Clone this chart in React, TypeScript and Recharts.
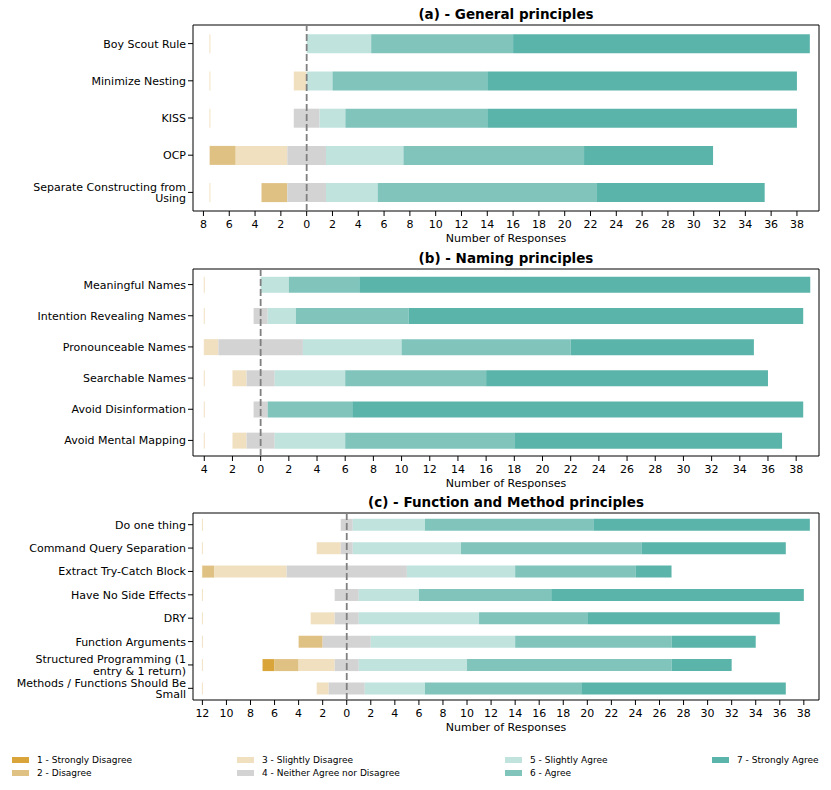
import React from 'react';
import { BarChart, Bar, XAxis, YAxis, ReferenceLine, ReferenceArea } from 'recharts';

// ---- Likert levels ----
const likertLevels = [
  '1 - Strongly Disagree',
  '2 - Disagree',
  '3 - Slightly Disagree',
  '4 - Neither Agree nor Disagree',
  '5 - Slightly Agree',
  '6 - Agree',
  '7 - Strongly Agree',
];
const likertKeys = ['sd', 'd', 'sld', 'n', 'sla', 'a', 'sa'];
const likertColors = ['#d9a53a', '#e0c184', '#f0e0c0', '#d3d3d3', '#c0e3de', '#80c4bc', '#5ab4aa'];

// ---- (a) General principles ----
const generalCategories = [
  'Boy Scout Rule',
  'Minimize Nesting',
  'KISS',
  'OCP',
  'Separate Constructing from\nUsing',
];
const generalSD = [0, 0, 0, 0, 0];
const generalD = [0, 0, 0, 2, 2];
const generalSlD = [0, 1, 0, 4, 0];
const generalN = [0, 0, 2, 3, 3];
const generalSlA = [5, 2, 2, 6, 4];
const generalA = [11, 12, 11, 14, 17];
const generalSA = [23, 24, 24, 10, 13];
const generalTicks = [-8, -6, -4, -2, 0, 2, 4, 6, 8, 10, 12, 14, 16, 18, 20, 22, 24, 26, 28, 30, 32, 34, 36, 38];

// ---- (b) Naming principles ----
const namingCategories = [
  'Meaningful Names',
  'Intention Revealing Names',
  'Pronounceable Names',
  'Searchable Names',
  'Avoid Disinformation',
  'Avoid Mental Mapping',
];
const namingSD = [0, 0, 0, 0, 0, 0];
const namingD = [0, 0, 0, 0, 0, 0];
const namingSlD = [0, 0, 1, 1, 0, 1];
const namingN = [0, 1, 6, 2, 1, 2];
const namingSlA = [2, 2, 7, 5, 0, 5];
const namingA = [5, 8, 12, 10, 6, 12];
const namingSA = [32, 28, 13, 20, 32, 19];
const namingTicks = [-4, -2, 0, 2, 4, 6, 8, 10, 12, 14, 16, 18, 20, 22, 24, 26, 28, 30, 32, 34, 36, 38];

// ---- (c) Function and Method principles ----
const functionCategories = [
  'Do one thing',
  'Command Query Separation',
  'Extract Try-Catch Block',
  'Have No Side Effects',
  'DRY',
  'Function Arguments',
  'Structured Programming (1\nentry & 1 return)',
  'Methods / Functions Should Be\nSmall',
];
const functionSD = [0, 0, 0, 0, 0, 0, 1, 0];
const functionD = [0, 0, 1, 0, 0, 2, 2, 0];
const functionSlD = [0, 2, 6, 0, 2, 0, 3, 1];
const functionN = [1, 1, 10, 2, 2, 4, 2, 3];
const functionSlA = [6, 9, 9, 5, 10, 12, 9, 5];
const functionA = [14, 15, 10, 11, 9, 13, 17, 13];
const functionSA = [18, 12, 3, 21, 16, 7, 5, 17];
const functionTicks = [-12, -10, -8, -6, -4, -2, 0, 2, 4, 6, 8, 10, 12, 14, 16, 18, 20, 22, 24, 26, 28, 30, 32, 34, 36, 38];

type Row = { [k: string]: any };

function buildRows(categories: string[], series: number[][]) {
  const rows: Row[] = categories.map((name, i) => {
    const r: Row = { name };
    series.forEach((s, j) => (r[likertKeys[j]] = s[i]));
    r.left = r.sd + r.d + r.sld + r.n / 2;
    return r;
  });
  const maxLeft = Math.max(...rows.map((r) => r.left));
  rows.forEach((r) => (r.pad = maxLeft - r.left));
  return { rows, maxLeft };
}

const PadShape = (props: any) => {
  const { x, y, height } = props;
  if (x == null || y == null) return null;
  return <line x1={x} x2={x} y1={y} y2={y + height} stroke="#f1e2c2" strokeWidth={1} />;
};

const CategoryTick = (props: any) => {
  const { x, y, payload } = props;
  const lines = String(payload.value).split('\n');
  const lh = 11.5;
  const startDy = -((lines.length - 1) * lh) / 2;
  return (
    <text x={x} y={y} textAnchor="end" fontSize={11} fill="#000" fontFamily="DejaVu Sans">
      {lines.map((l, i) => (
        <tspan key={i} x={x} dy={i === 0 ? startDy + 4 : lh}>
          {l}
        </tspan>
      ))}
    </text>
  );
};

type PanelProps = {
  title: string;
  categories: string[];
  series: number[][];
  ticks: number[];
  xMin: number;
  xMax: number;
  plotTop: number;
  plotHeight: number;
};

const MARGIN_TOP = 20;
const X_AXIS_H = 34;

function Panel({ title, categories, series, ticks, xMin, xMax, plotTop, plotHeight }: PanelProps) {
  const { rows, maxLeft } = buildRows(categories, series);
  const domain: [number, number] = [maxLeft + xMin, maxLeft + xMax];
  const chartTop = plotTop - MARGIN_TOP;
  const chartHeight = MARGIN_TOP + plotHeight + X_AXIS_H;
  return (
    <>
      <div
        style={{
          position: 'absolute',
          left: 193,
          width: 626,
          top: plotTop - 20,
          height: 18,
          lineHeight: '18px',
          textAlign: 'center',
          fontWeight: 'bold',
          fontSize: 13.5,
          color: '#000',
        }}
      >
        {title}
      </div>
      <div style={{ position: 'absolute', left: 0, top: chartTop }}>
        <BarChart
          width={831}
          height={chartHeight}
          data={rows}
          layout="vertical"
          margin={{ top: MARGIN_TOP, right: 12, bottom: 0, left: 0 }}
          barCategoryGap="25%"
        >
          <XAxis
            type="number"
            domain={domain}
            allowDataOverflow
            ticks={ticks.map((t) => t + maxLeft)}
            interval={0}
            tickFormatter={(v: number) => String(Math.round(Math.abs(v - maxLeft)))}
            tick={{ fontSize: 11, fill: '#000' }}
            tickLine={{ stroke: '#000' }}
            tickSize={5}
            tickMargin={4}
            axisLine={false}
            height={X_AXIS_H}
            label={{ value: 'Number of Responses', position: 'insideBottom', offset: 3, fontSize: 11, fill: '#000' }}
          />
          <YAxis
            type="category"
            dataKey="name"
            width={193}
            tick={<CategoryTick />}
            tickLine={{ stroke: '#000' }}
            tickSize={5}
            tickMargin={2}
            axisLine={false}
            interval={0}
          />
          <ReferenceLine x={maxLeft} stroke="#808080" strokeWidth={1.8} strokeDasharray="7 3" />
          <Bar dataKey="pad" stackId="s" fill="none" shape={<PadShape />} isAnimationActive={false} />
          {likertKeys.map((k, i) => (
            <Bar key={k} dataKey={k} stackId="s" fill={likertColors[i]} isAnimationActive={false} />
          ))}
          <ReferenceArea x1={domain[0]} x2={domain[1]} fill="none" stroke="#000" strokeWidth={1} ifOverflow="visible" />
        </BarChart>
      </div>
    </>
  );
}

const legendCols = [
  { x: 12, items: [0, 1] },
  { x: 237, items: [2, 3] },
  { x: 505, items: [4, 5] },
  { x: 712, items: [6] },
];

export default function App() {
  return (
    <div
      style={{
        position: 'absolute',
        left: 0,
        top: 0,
        width: 831,
        height: 790,
        background: '#fff',
        fontFamily: 'DejaVu Sans',
        overflow: 'hidden',
      }}
    >
      <Panel
        title="(a) - General principles"
        categories={generalCategories}
        series={[generalSD, generalD, generalSlD, generalN, generalSlA, generalA, generalSA]}
        ticks={generalTicks}
        xMin={-8.81}
        xMax={39.71}
        plotTop={25}
        plotHeight={186}
      />
      <Panel
        title="(b) - Naming principles"
        categories={namingCategories}
        series={[namingSD, namingD, namingSlD, namingN, namingSlA, namingA, namingSA]}
        ticks={namingTicks}
        xMin={-4.8}
        xMax={39.62}
        plotTop={269}
        plotHeight={187}
      />
      <Panel
        title="(c) - Function and Method principles"
        categories={functionCategories}
        series={[functionSD, functionD, functionSlD, functionN, functionSlA, functionA, functionSA]}
        ticks={functionTicks}
        xMin={-12.78}
        xMax={39.26}
        plotTop={513}
        plotHeight={187}
      />
      {legendCols.map((col, ci) =>
        col.items.map((li, ri) => (
          <div
            key={`${ci}-${ri}`}
            style={{
              position: 'absolute',
              left: col.x,
              top: 760 + ri * 13.3 - 7,
              height: 14,
              display: 'flex',
              alignItems: 'center',
              fontSize: 9,
              color: '#000',
              whiteSpace: 'nowrap',
            }}
          >
            <span style={{ display: 'inline-block', width: 17, height: 6, background: likertColors[li], marginRight: 8 }} />
            <span>{likertLevels[li]}</span>
          </div>
        ))
      )}
    </div>
  );
}
